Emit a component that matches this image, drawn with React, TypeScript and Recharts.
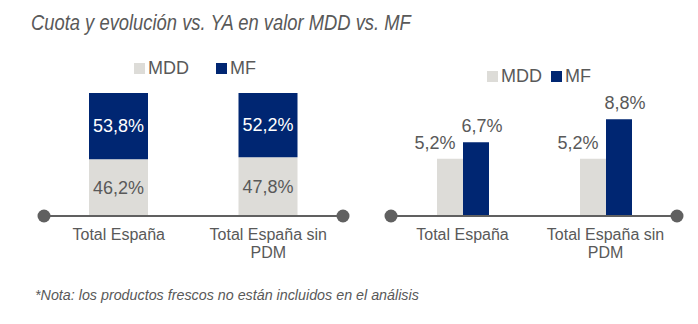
import { BarChart, Bar, XAxis, YAxis, Legend, LabelList, Text } from 'recharts';

const CATEGORIES = ['Total España', 'Total España sin PDM'];
const SHARE_MDD = [46.2, 47.8];
const SHARE_MF = [53.8, 52.2];
const GROWTH_MDD = [5.2, 5.2];
const GROWTH_MF = [6.7, 8.8];

const MDD_COLOR = '#DDDCD8';
const MF_COLOR = '#002672';
const TEXT = '#595959';
const AXIS = '#606060';
const FONT = '"Liberation Sans", Arial, sans-serif';
const AXIS_H = 64;
const CHART_H = 280;

const shareData = CATEGORIES.map((name, i) => ({ name, MDD: SHARE_MDD[i], MF: SHARE_MF[i] }));
const growthData = CATEGORIES.map((name, i) => ({ name, MDD: GROWTH_MDD[i], MF: GROWTH_MF[i] }));

const fmt = (v: number) => v.toFixed(1).replace('.', ',') + '%';

// layout of the two panels (page coords)
const LEFT = { x: 0, width: 360, margin: { top: 93, right: 17, bottom: 0, left: 44 } };
const RIGHT = { x: 370, width: 328, margin: { top: 106, right: 21, bottom: 0, left: 21 } };

function CategoryTick({ x, y, payload }: any) {
  return (
    <Text
      x={x}
      y={y + 13}
      width={140}
      textAnchor="middle"
      verticalAnchor="start"
      lineHeight={18}
      fontSize={16}
      fill={TEXT}
      fontFamily={FONT}
    >
      {payload.value}
    </Text>
  );
}

function legendContent(gap: number) {
  return ({ payload }: any) => (
    <div style={{ display: 'flex', alignItems: 'center', fontFamily: FONT, fontSize: 18, color: TEXT, lineHeight: '20px' }}>
      {(payload || []).map((p: any, i: number) => (
        <span key={p.value} style={{ display: 'flex', alignItems: 'center', marginLeft: i ? gap : 0 }}>
          <span style={{ width: 11, height: 11, background: p.color, marginRight: 3 }} />
          {p.value}
        </span>
      ))}
    </div>
  );
}

// growth labels sit above the bars, nudged sideways like the original
const growthLabel = (dx: number) => (props: any) => {
  const { x, y, width, value } = props;
  return (
    <text x={x + width / 2 + dx} y={y - 10} textAnchor="middle" fontSize={18} fill={TEXT} fontFamily={FONT}>
      {fmt(value)}
    </text>
  );
};

function AxisCaps() {
  const axisY = CHART_H - AXIS_H;
  const ends = [
    LEFT.x + LEFT.margin.left,
    LEFT.x + LEFT.width - LEFT.margin.right,
    RIGHT.x + RIGHT.margin.left,
    RIGHT.x + RIGHT.width - RIGHT.margin.right,
  ];
  return (
    <svg width={698} height={324} style={{ position: 'absolute', left: 0, top: 0, pointerEvents: 'none' }}>
      {ends.map((cx) => (
        <circle key={cx} cx={cx} cy={axisY} r={6.5} fill={AXIS} />
      ))}
    </svg>
  );
}

export default function App() {
  return (
    <div style={{ position: 'relative', width: 698, height: 324, background: '#fff', overflow: 'hidden' }}>
      <style>{'body{margin:0}'}</style>

      {/* narrow italic title: no condensed font installed, so squeeze it */}
      <div
        style={{
          position: 'absolute', left: 31, top: 12, fontSize: 22, lineHeight: '22px', fontStyle: 'italic',
          fontFamily: FONT, color: TEXT, whiteSpace: 'nowrap',
          transform: 'scaleX(0.835)', transformOrigin: 'left top',
        }}
      >
        Cuota y evolución vs. YA en valor MDD vs. MF
      </div>

      {/* Cuota */}
      <div style={{ position: 'absolute', left: LEFT.x, top: 0 }}>
        <BarChart width={LEFT.width} height={CHART_H} data={shareData} margin={LEFT.margin}>
          <XAxis
            dataKey="name"
            height={AXIS_H}
            axisLine={{ stroke: AXIS, strokeWidth: 2 }}
            tickLine={false}
            tickSize={0}
            tickMargin={0}
            interval={0}
            tick={<CategoryTick />}
          />
          <YAxis hide domain={[0, 100]} />
          <Legend
            layout="horizontal"
            verticalAlign="middle"
            align="center"
            content={legendContent(27)}
            wrapperStyle={{ top: 58, left: 134, width: 'auto' }}
          />
          <Bar dataKey="MDD" stackId="a" fill={MDD_COLOR} barSize={59} isAnimationActive={false}>
            <LabelList dataKey="MDD" position="center" formatter={(v: any) => fmt(v)} fill={TEXT} fontSize={18} fontFamily={FONT} />
          </Bar>
          <Bar dataKey="MF" stackId="a" fill={MF_COLOR} barSize={59} isAnimationActive={false}>
            <LabelList dataKey="MF" position="center" formatter={(v: any) => fmt(v)} fill="#fff" fontSize={18} fontFamily={FONT} />
          </Bar>
        </BarChart>
      </div>

      {/* Evolución vs. YA */}
      <div style={{ position: 'absolute', left: RIGHT.x, top: 0 }}>
        <BarChart width={RIGHT.width} height={CHART_H} data={growthData} margin={RIGHT.margin} barGap={0}>
          <XAxis
            dataKey="name"
            height={AXIS_H}
            axisLine={{ stroke: AXIS, strokeWidth: 2 }}
            tickLine={false}
            tickSize={0}
            tickMargin={0}
            interval={0}
            tick={<CategoryTick />}
          />
          <YAxis hide domain={[0, 10]} />
          <Legend
            layout="horizontal"
            verticalAlign="middle"
            align="center"
            content={legendContent(9)}
            wrapperStyle={{ top: 66, left: 117, width: 'auto' }}
          />
          <Bar dataKey="MDD" fill={MDD_COLOR} barSize={26} isAnimationActive={false}>
            <LabelList dataKey="MDD" content={growthLabel(-15)} />
          </Bar>
          <Bar dataKey="MF" fill={MF_COLOR} barSize={26} isAnimationActive={false}>
            <LabelList dataKey="MF" content={growthLabel(6)} />
          </Bar>
        </BarChart>
      </div>

      <AxisCaps />

      <div
        style={{
          position: 'absolute', left: 35, top: 288, fontSize: 14.3, lineHeight: '14px', fontStyle: 'italic',
          fontFamily: FONT, color: TEXT, whiteSpace: 'nowrap',
        }}
      >
        *Nota: los productos frescos no están incluidos en el análisis
      </div>
    </div>
  );
}
